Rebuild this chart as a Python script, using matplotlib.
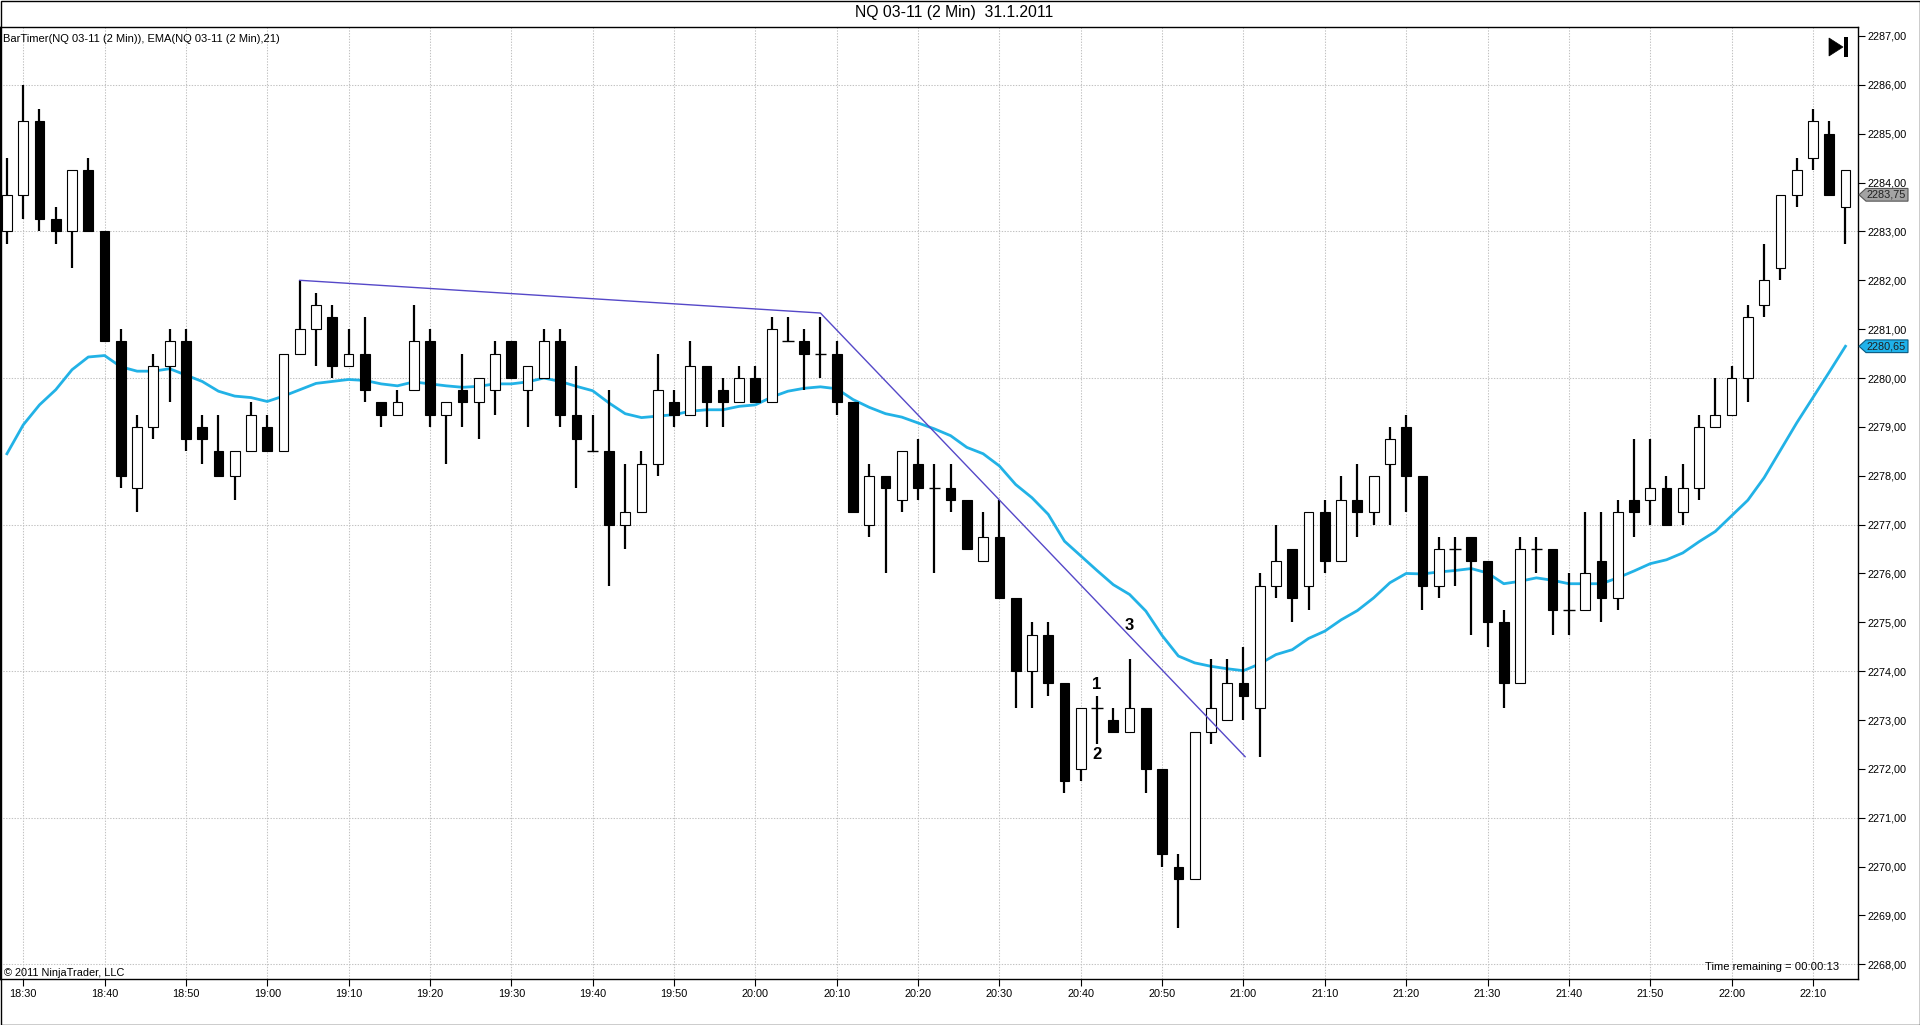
import matplotlib
matplotlib.use("Agg")
import matplotlib.pyplot as plt
import matplotlib.transforms as mtransforms
from matplotlib.patches import Polygon, Rectangle

plt.rcParams['font.family'] = ['Liberation Sans', 'DejaVu Sans']

# ---------------- data ----------------
# bar index 0 = 18:30, bars every 2 minutes; first bar (index -1) = 18:28
bar_index = list(range(-1, 113))

opens = [2283.0, 2283.75, 2285.25, 2283.25, 2283.0, 2284.25, 2283.0, 2280.75, 2277.75, 2279.0,
         2280.25, 2280.75, 2279.0, 2278.5, 2278.0, 2278.5, 2279.0, 2278.5, 2280.5, 2281.0,
         2281.25, 2280.25, 2280.5, 2279.5, 2279.25, 2279.75, 2280.75, 2279.25, 2279.75, 2279.5,
         2279.75, 2280.75, 2279.75, 2280.0, 2280.75, 2279.25, 2278.5, 2278.5, 2277.0, 2277.25,
         2278.25, 2279.5, 2279.25, 2280.25, 2279.75, 2279.5, 2280.0, 2279.5, 2280.75, 2280.75,
         2280.5, 2280.5, 2279.5, 2277.0, 2278.0, 2277.5, 2278.25, 2277.75, 2277.75, 2277.5,
         2276.25, 2276.75, 2275.5, 2274.0, 2274.75, 2273.75, 2272.0, 2273.25, 2273.0, 2272.75,
         2273.25, 2272.0, 2270.0, 2269.75, 2272.75, 2273.0, 2273.75, 2273.25, 2275.75, 2276.5,
         2275.75, 2277.25, 2276.25, 2277.5, 2277.25, 2278.25, 2279.0, 2278.0, 2275.75, 2276.5,
         2276.75, 2276.25, 2275.0, 2273.75, 2276.5, 2276.5, 2275.25, 2275.25, 2276.25, 2275.5,
         2277.5, 2277.5, 2277.75, 2277.25, 2277.75, 2279.0, 2279.25, 2280.0, 2281.5, 2282.25,
         2283.75, 2284.5, 2285.0, 2283.5]
highs = [2284.5, 2286.0, 2285.5, 2283.5, 2284.25, 2284.5, 2283.0, 2281.0, 2279.25, 2280.5,
         2281.0, 2281.0, 2279.25, 2279.25, 2278.5, 2279.5, 2279.25, 2280.5, 2282.0, 2281.75,
         2281.5, 2281.0, 2281.25, 2279.5, 2279.75, 2281.5, 2281.0, 2279.5, 2280.5, 2280.0,
         2280.75, 2280.75, 2280.25, 2281.0, 2281.0, 2280.25, 2279.25, 2279.75, 2278.25, 2278.5,
         2280.5, 2279.75, 2280.75, 2280.25, 2280.0, 2280.25, 2280.25, 2281.25, 2281.25, 2281.0,
         2281.25, 2280.75, 2279.5, 2278.25, 2278.0, 2278.5, 2278.75, 2278.25, 2278.25, 2277.5,
         2277.25, 2277.5, 2275.5, 2275.0, 2275.0, 2273.75, 2273.25, 2273.5, 2273.25, 2274.25,
         2273.25, 2272.0, 2270.25, 2272.75, 2274.25, 2274.25, 2274.5, 2276.0, 2277.0, 2276.5,
         2277.25, 2277.5, 2278.0, 2278.25, 2278.0, 2279.0, 2279.25, 2278.0, 2276.75, 2276.75,
         2276.75, 2276.25, 2275.25, 2276.75, 2276.75, 2276.5, 2276.0, 2277.25, 2277.25, 2277.5,
         2278.75, 2278.75, 2278.0, 2278.25, 2279.25, 2280.0, 2280.25, 2281.5, 2282.75, 2283.75,
         2284.5, 2285.5, 2285.25, 2284.25]
lows = [2282.75, 2283.25, 2283.0, 2282.75, 2282.25, 2283.0, 2280.75, 2277.75, 2277.25, 2278.75,
        2279.5, 2278.5, 2278.25, 2278.0, 2277.5, 2278.5, 2278.5, 2278.5, 2280.5, 2280.25,
        2280.0, 2280.25, 2279.5, 2279.0, 2279.25, 2279.75, 2279.0, 2278.25, 2279.0, 2278.75,
        2279.25, 2280.0, 2279.0, 2280.0, 2279.0, 2277.75, 2278.5, 2275.75, 2276.5, 2277.25,
        2278.0, 2279.0, 2279.25, 2279.0, 2279.0, 2279.5, 2279.5, 2279.5, 2280.75, 2279.75,
        2280.0, 2279.25, 2277.25, 2276.75, 2276.0, 2277.25, 2277.5, 2276.0, 2277.25, 2276.5,
        2276.25, 2275.5, 2273.25, 2273.25, 2273.5, 2271.5, 2271.75, 2272.5, 2272.75, 2272.75,
        2271.5, 2270.0, 2268.75, 2269.75, 2272.5, 2273.0, 2273.0, 2272.25, 2275.5, 2275.0,
        2275.25, 2276.0, 2276.25, 2276.75, 2277.0, 2277.0, 2277.25, 2275.25, 2275.5, 2275.75,
        2274.75, 2274.5, 2273.25, 2273.75, 2276.0, 2274.75, 2274.75, 2275.25, 2275.0, 2275.25,
        2276.75, 2277.0, 2277.0, 2277.0, 2277.5, 2279.0, 2279.25, 2279.5, 2281.25, 2282.0,
        2283.5, 2284.25, 2283.75, 2282.75]
closes = [2283.75, 2285.25, 2283.25, 2283.0, 2284.25, 2283.0, 2280.75, 2278.0, 2279.0, 2280.25,
          2280.75, 2278.75, 2278.75, 2278.0, 2278.5, 2279.25, 2278.5, 2280.5, 2281.0, 2281.5,
          2280.25, 2280.5, 2279.75, 2279.25, 2279.5, 2280.75, 2279.25, 2279.5, 2279.5, 2280.0,
          2280.5, 2280.0, 2280.25, 2280.75, 2279.25, 2278.75, 2278.5, 2277.0, 2277.25, 2278.25,
          2279.75, 2279.25, 2280.25, 2279.5, 2279.5, 2280.0, 2279.5, 2281.0, 2280.75, 2280.5,
          2280.5, 2279.5, 2277.25, 2278.0, 2277.75, 2278.5, 2277.75, 2277.75, 2277.5, 2276.5,
          2276.75, 2275.5, 2274.0, 2274.75, 2273.75, 2271.75, 2273.25, 2273.25, 2272.75, 2273.25,
          2272.0, 2270.25, 2269.75, 2272.75, 2273.25, 2273.75, 2273.5, 2275.75, 2276.25, 2275.5,
          2277.25, 2276.25, 2277.5, 2277.25, 2278.0, 2278.75, 2278.0, 2275.75, 2276.5, 2276.5,
          2276.25, 2275.0, 2273.75, 2276.5, 2276.5, 2275.25, 2275.25, 2276.0, 2275.5, 2277.25,
          2277.25, 2277.75, 2277.0, 2277.75, 2279.0, 2279.25, 2280.0, 2281.25, 2282.0, 2283.75,
          2284.25, 2285.25, 2283.75, 2284.25]

ema21 = [2278.45, 2279.04, 2279.45, 2279.76, 2280.17, 2280.43, 2280.46, 2280.23, 2280.14, 2280.14,
         2280.19, 2280.06, 2279.93, 2279.73, 2279.63, 2279.60, 2279.52, 2279.63, 2279.76, 2279.89,
         2279.93, 2279.97, 2279.95, 2279.88, 2279.84, 2279.92, 2279.88, 2279.84, 2279.81, 2279.83,
         2279.88, 2279.88, 2279.92, 2280.00, 2279.93, 2279.83, 2279.74, 2279.49, 2279.27, 2279.19,
         2279.22, 2279.25, 2279.32, 2279.35, 2279.35, 2279.42, 2279.45, 2279.61, 2279.73, 2279.79,
         2279.82, 2279.78, 2279.56, 2279.40, 2279.27, 2279.20, 2279.08, 2278.96, 2278.82, 2278.58,
         2278.45, 2278.20, 2277.82, 2277.55, 2277.21, 2276.66, 2276.36, 2276.06, 2275.77, 2275.57,
         2275.23, 2274.73, 2274.31, 2274.17, 2274.10, 2274.05, 2274.01, 2274.15, 2274.34, 2274.44,
         2274.67, 2274.82, 2275.05, 2275.24, 2275.50, 2275.81, 2276.00, 2275.99, 2276.03, 2276.06,
         2276.10, 2276.01, 2275.79, 2275.84, 2275.91, 2275.86, 2275.79, 2275.79, 2275.79, 2275.91,
         2276.05, 2276.20, 2276.28, 2276.42, 2276.65, 2276.86, 2277.18, 2277.50, 2277.96, 2278.52,
         2279.08, 2279.60, 2280.12, 2280.65]

time_labels = ["18:30", "18:40", "18:50", "19:00", "19:10", "19:20", "19:30", "19:40", "19:50",
               "20:00", "20:10", "20:20", "20:30", "20:40", "20:50", "21:00", "21:10", "21:20",
               "21:30", "21:40", "21:50", "22:00", "22:10"]
time_label_index = list(range(0, 111, 5))

price_ticks = list(range(2268, 2288))
price_grid = list(range(2268, 2287, 3))

trend_x = [17, 49, 75.1]
trend_y = [2282.0, 2281.33, 2272.25]

notes = ["1", "2", "3"]
notes_x = [66, 66, 68.0]
notes_y = [2273.72, 2272.3, 2274.93]

last_price = 2283.75
last_ema = 2280.65

# ---------------- figure ----------------
W, H = 1920, 1025
fig = plt.figure(figsize=(W / 100, H / 100), dpi=100)
ax_left, ax_right, ax_top, ax_bottom = 0, 1858, 27, 979
ax = fig.add_axes([ax_left / W, (H - ax_bottom) / H, (ax_right - ax_left) / W,
                   (ax_bottom - ax_top) / H])
ax.set_xlim(-1.426, 112.77)
ax.set_ylim(2267.70, 2287.184)

# grid (dotted)
grid_kw = dict(color='#c2c2c2', lw=0.75, ls=(0, (1.3, 1.4)), zorder=0)
for i in time_label_index:
    ax.axvline(i, **grid_kw)
for p in price_grid:
    ax.axhline(p, **grid_kw)

# EMA
ax.plot(bar_index, ema21, color='#22b2e6', lw=2.0, zorder=2, solid_joinstyle='round')

# candles
ax.vlines(bar_index, lows, highs, color='black', lw=1.6, zorder=3)
body_w = 0.6
for x, o, c in zip(bar_index, opens, closes):
    if o == c:
        ax.hlines(o, x - body_w / 2 - 0.05, x + body_w / 2 + 0.05, color='black', lw=1.0, zorder=4)
        continue
    lo, hi = min(o, c), max(o, c)
    face = 'black' if c < o else 'white'
    ax.add_patch(Rectangle((x - body_w / 2, lo), body_w, hi - lo, facecolor=face,
                           edgecolor='black', lw=0.8, zorder=4))

# trend lines
ax.plot(trend_x, trend_y, color='#5548c8', lw=1.0, zorder=5)

# annotations
for t, x, y in zip(notes, notes_x, notes_y):
    ax.text(x, y, t, fontsize=12, fontweight='bold', ha='center', va='center', zorder=6)

# axes styling
for s in ['left', 'top', 'right', 'bottom']:
    ax.spines[s].set_linewidth(1.0)
    ax.spines[s].set_color('black')
ax.yaxis.tick_right()
ax.set_yticks(price_ticks)
ax.set_yticklabels([f"{p:.2f}".replace('.', ',') for p in price_ticks], fontsize=7.8)
ax.set_xticks(time_label_index)
ax.set_xticklabels(time_labels, fontsize=7.8)
ax.tick_params(axis='y', direction='out', length=5, width=0.8, pad=1.5)
ax.tick_params(axis='x', direction='out', length=5, width=0.8, pad=2)

# price markers on axis
blend = mtransforms.blended_transform_factory(fig.transFigure, ax.transData)
def marker(price, face, edge):
    hh = 0.13
    x0, x1, x2 = 1859 / W, 1866 / W, 1908 / W
    poly = Polygon([(x0, price), (x1, price + hh), (x2, price + hh), (x2, price - hh),
                    (x1, price - hh)], closed=True, facecolor=face, edgecolor=edge, lw=0.8,
                   transform=blend, clip_on=False, zorder=10)
    fig.add_artist(poly)
    fig.text(1866.5 / W, price, f"{price:.2f}".replace('.', ','), transform=blend,
             fontsize=7.8, ha='left', va='center', color='#202020', zorder=11)

marker(last_price, '#a3a3a3', '#555555')
marker(last_ema, '#1fb2ea', '#0a5a80')

# texts
fig.text(954.5 / W, 1 - 12.7 / H, "NQ 03-11 (2 Min)  31.1.2011", fontsize=11.3, ha='center',
         va='center')
fig.text(3 / W, 1 - 39 / H, "BarTimer(NQ 03-11 (2 Min)), EMA(NQ 03-11 (2 Min),21)",
         fontsize=8.0, ha='left', va='center')
fig.text(3.5 / W, 1 - 972.5 / H, "© 2011 NinjaTrader, LLC", fontsize=7.9, ha='left',
         va='center')
fig.text(1839 / W, 1 - 967 / H, "Time remaining = 00:00:13", fontsize=8.1, ha='right',
         va='center')

# skip-to-end icon
tri = Polygon([(1829 / W, 1 - 38 / H), (1829 / W, 1 - 56 / H), (1843 / W, 1 - 47 / H)],
              closed=True, facecolor='black', edgecolor='black', lw=0.5,
              transform=fig.transFigure)
fig.add_artist(tri)
fig.add_artist(Rectangle((1844 / W, 1 - 57 / H), 4 / W, 20 / H, facecolor='black',
                         edgecolor='none', transform=fig.transFigure))

# outer border
fig.add_artist(Rectangle((0.5 / W, 0.5 / H), 1 - 1 / W, 1 - 1 / H, fill=False,
                         edgecolor='black', lw=1.0, transform=fig.transFigure))

fig.savefig("out.png", dpi=100, facecolor='white')
